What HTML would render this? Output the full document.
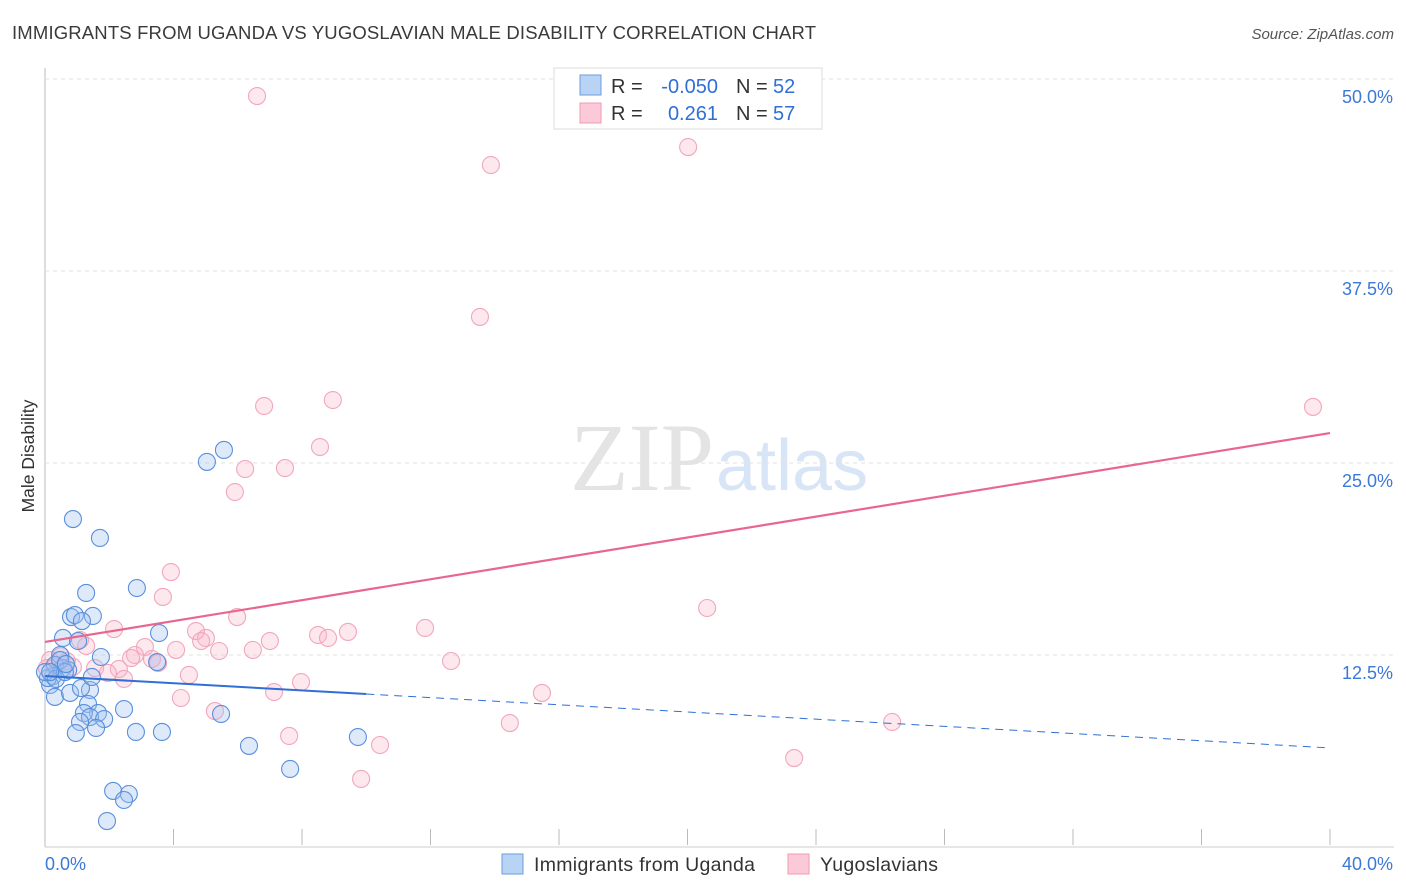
<!DOCTYPE html>
<html><head><meta charset="utf-8"><style>
body{margin:0;background:#fff;font-family:"Liberation Sans",sans-serif;}
svg{display:block}
</style></head><body>
<svg id="chart" width="1406" height="892">
<text x="12" y="39" font-size="18.5" fill="#3a3a3a" textLength="804">IMMIGRANTS FROM UGANDA VS YUGOSLAVIAN MALE DISABILITY CORRELATION CHART</text>
<text x="1394" y="39" font-size="15" fill="#555" font-style="italic" text-anchor="end">Source: ZipAtlas.com</text>
<text x="714" y="490" font-size="96" fill="#e4e4e4" font-family="Liberation Serif,serif" text-anchor="end">ZIP</text>
<text x="716" y="490" font-size="72" fill="#d8e5f6">atlas</text>
<text transform="translate(34,456) rotate(-90)" font-size="17.5" fill="#333" text-anchor="middle">Male Disability</text>
<g id="grid"></g><g id="marks"></g>
<g>
<rect x="554" y="68" width="268" height="61" fill="#fff" stroke="#ddd"/>
<rect x="580" y="75" width="21" height="20" fill="#b9d3f5" stroke="#6a9de0"/>
<rect x="580" y="103" width="21" height="20" fill="#fbc9d7" stroke="#f09ab6"/>
<text x="611" y="93" font-size="20" fill="#333">R =</text>
<text x="718" y="93" font-size="20" fill="#2f6fd6" text-anchor="end">-0.050</text>
<text x="736" y="93" font-size="20" fill="#333">N =</text>
<text x="773" y="93" font-size="20" fill="#2f6fd6">52</text>
<text x="611" y="120" font-size="20" fill="#333">R =</text>
<text x="718" y="120" font-size="20" fill="#2f6fd6" text-anchor="end">0.261</text>
<text x="736" y="120" font-size="20" fill="#333">N =</text>
<text x="773" y="120" font-size="20" fill="#2f6fd6">57</text>
</g>
<g>
<rect x="502" y="854" width="21" height="20" fill="#b9d3f5" stroke="#6a9de0"/>
<text x="534" y="871" font-size="19.5" fill="#333" textLength="221">Immigrants from Uganda</text>
<rect x="788" y="854" width="21" height="20" fill="#fbc9d7" stroke="#f09ab6"/>
<text x="820" y="871" font-size="19.5" fill="#333" textLength="118">Yugoslavians</text>
</g>
</svg>
<script>
const yTicks=[12.5,25,37.5,50];
const yTickLabels=["12.5%","25.0%","37.5%","50.0%"];
const xTickLabels=["0.0%","40.0%"];
const blueX=[0.87,1.71,1.28,2.86,0.81,0.93,1.49,1.15,0.56,1.03,3.55,1.74,0.47,0.56,0.25,0.72,0.16,0.31,0.78,1.40,1.12,1.46,1.34,1.65,1.21,1.40,1.84,2.46,1.59,1.09,0.96,2.83,3.64,3.49,5.48,6.35,5.04,5.57,7.63,9.74,2.12,2.61,2.46,1.93,0.09,0.31,0.0,0.47,0.34,0.62,0.16,0.65];
const blueY=[21.35,20.12,16.54,16.86,14.97,15.10,15.04,14.71,13.61,13.41,13.93,12.37,12.5,11.65,11.13,11.52,10.55,9.77,10.03,10.22,10.35,11.07,9.31,8.72,8.72,8.46,8.33,8.98,7.75,8.14,7.42,7.49,7.49,12.04,8.66,6.58,25.07,25.85,5.08,7.16,3.65,3.45,3.06,1.69,11.0,11.85,11.39,12.17,10.94,11.39,11.39,11.91];
const pinkX=[6.60,13.88,20.02,13.54,6.82,8.96,8.56,39.47,6.23,7.47,5.91,3.92,3.67,5.98,20.61,2.15,4.70,5.01,4.86,7.00,8.50,8.81,9.43,11.83,4.08,5.42,6.47,3.11,2.80,2.68,3.33,3.52,2.30,1.56,0.87,1.28,1.09,0.50,0.68,1.96,2.46,12.64,4.48,7.97,7.13,15.47,4.23,5.29,14.47,26.37,7.60,10.43,23.32,9.84,0.16,0.31,0.06];
const pinkY=[48.89,44.40,45.57,34.51,28.71,29.10,26.04,28.65,24.61,24.67,23.11,17.90,16.28,14.97,15.56,14.19,14.06,13.61,13.41,13.41,13.80,13.61,14.00,14.26,12.83,12.76,12.83,13.02,12.50,12.30,12.24,11.98,11.59,11.65,11.72,13.09,13.48,12.43,12.11,11.33,10.94,12.11,11.20,10.74,10.09,10.03,9.70,8.85,8.07,8.14,7.23,6.64,5.79,4.43,12.17,11.72,11.65];
const blueTrend=[11.13,6.45];
const pinkTrend=[13.35,26.95];
const NS="http://www.w3.org/2000/svg";
const X=v=>45+v*32.125, Y=v=>847-v*15.36;
function mk(t,a,p){const e=document.createElementNS(NS,t);for(const k in a)e.setAttribute(k,a[k]);p.appendChild(e);return e;}
const grid=document.getElementById('grid'), marks=document.getElementById('marks');
let ax=mk('line',{x1:45,y1:68,x2:45,y2:847,stroke:'#bbb'},grid);


let bx=mk('line',{x1:45,y1:847,x2:1394,y2:847,stroke:'#ccc'},grid);


yTicks.forEach((t,i)=>{
 const g=mk('line',{x1:45,y1:Y(t),x2:1394,y2:Y(t),stroke:'#e2e2e2','stroke-dasharray':'4,4'},grid);
 
 
 const l=mk('text',{x:1393,y:Y(t)+24,'font-size':18,fill:'#3b78d8','text-anchor':'end'},grid);
 l.textContent=yTickLabels[i];
 
 
});
for(let k=1;k<=10;k++){const tk=mk('line',{x1:X(k*4),y1:829,x2:X(k*4),y2:845,stroke:'#bbb'},grid);
 
 }
[[0,45,'start'],[40,1393,'end']].forEach((d,i)=>{const l=mk('text',{x:d[1],y:870,'font-size':18,fill:'#3b78d8','text-anchor':d[2]},grid);l.textContent=xTickLabels[i];
 
 });
function pts(xs,ys,fill,stroke,name){xs.forEach((x,i)=>{const c=mk('circle',{cx:X(x),cy:Y(ys[i]),r:8.5,fill:fill,stroke:stroke,'stroke-width':1.1},marks);
 
 });}
pts(pinkX,pinkY,'rgba(248,180,200,0.3)','#f2a6bd','yugoslavian-point');
pts(blueX,blueY,'rgba(160,196,240,0.35)','#5a8fdc','uganda-point');
const xe=10.0;
let t1=mk('line',{x1:X(0),y1:Y(blueTrend[0]),x2:X(xe),y2:Y(blueTrend[0]+(blueTrend[1]-blueTrend[0])*xe/40),stroke:'#2f6fd6','stroke-width':2},marks);


let t2=mk('line',{x1:X(xe),y1:Y(blueTrend[0]+(blueTrend[1]-blueTrend[0])*xe/40),x2:X(40),y2:Y(blueTrend[1]),stroke:'#2f6fd6','stroke-width':1,'stroke-dasharray':'8,6'},marks);


let t3=mk('line',{x1:X(0),y1:Y(pinkTrend[0]),x2:X(40),y2:Y(pinkTrend[1]),stroke:'#e8668f','stroke-width':2.2},marks);


</script>
</body></html>
